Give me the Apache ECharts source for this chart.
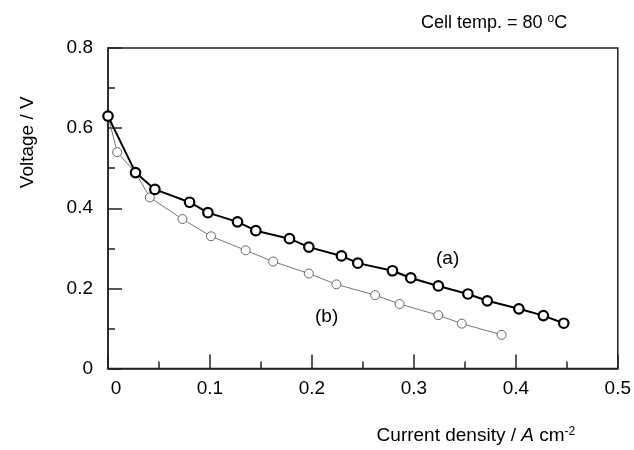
<!DOCTYPE html>
<html>
<head>
<meta charset="utf-8">
<script src="https://cdn.jsdelivr.net/npm/echarts@6/dist/echarts.min.js"></script>
<style>
  html, body { margin: 0; padding: 0; background: #fff; }
  #chart { width: 634px; height: 450px; }
</style>
</head>
<body>
<div id="chart"></div>
<script>
// curve (a)
const currentA = [0, 0.027, 0.046, 0.080, 0.098, 0.127, 0.145, 0.178, 0.197, 0.229, 0.245, 0.279, 0.297, 0.324, 0.353, 0.372, 0.403, 0.427, 0.447]
const voltageA = [0.630, 0.489, 0.447, 0.415, 0.389, 0.366, 0.344, 0.324, 0.303, 0.281, 0.263, 0.244, 0.226, 0.206, 0.186, 0.169, 0.149, 0.132, 0.113]
// curve (b)
const currentB = [0, 0.009, 0.027, 0.041, 0.073, 0.101, 0.135, 0.162, 0.197, 0.224, 0.262, 0.286, 0.324, 0.347, 0.386]
const voltageB = [0.630, 0.540, 0.489, 0.427, 0.373, 0.330, 0.295, 0.267, 0.237, 0.210, 0.183, 0.161, 0.133, 0.112, 0.084]

const FONT = 'Liberation Sans, Arial, sans-serif'
const FS = 19
const AXIS_COLOR = '#222'

const chart = echarts.init(document.getElementById('chart'))

const pairs = (xs, ys) => xs.map((x, i) => [x, ys[i]])

chart.setOption({
  animation: false,
  textStyle: { fontFamily: FONT },
  title: {
    text: '{n|Cell temp. = 80 }{s|o}{n|C}',
    left: 416,
    top: 8,
    textStyle: {
      fontWeight: 'normal',
      rich: {
        n: { fontSize: 18, color: '#000', fontFamily: FONT, fontWeight: 'normal' },
        s: { fontSize: 12, color: '#000', fontFamily: FONT, fontWeight: 'normal', verticalAlign: 'top', padding: [0, 0, 8, 0] }
      }
    }
  },
  grid: {
    left: 108, right: 15, top: 48, bottom: 76,
    show: true, borderColor: AXIS_COLOR, borderWidth: 1.5, backgroundColor: 'transparent'
  },
  xAxis: {
    type: 'value',
    min: 0, max: 0.5, interval: 0.1,
    name: '{n|Current density / }{i|A}{n| cm}{s|-2}',
    nameLocation: 'middle',
    nameGap: 57,
    nameTextStyle: {
      padding: [0, 0, 0, 226],
      rich: {
        n: { fontSize: FS, color: '#000', fontFamily: FONT },
        i: { fontSize: FS, color: '#000', fontFamily: FONT, fontStyle: 'italic' },
        s: { fontSize: 12, color: '#000', fontFamily: FONT, verticalAlign: 'top', padding: [0, 0, 8, 0] }
      }
    },
    axisLine: { lineStyle: { color: AXIS_COLOR, width: 1.5 } },
    axisTick: { inside: true, length: 14, lineStyle: { color: AXIS_COLOR, width: 1.5 } },
    minorTick: { show: true, splitNumber: 2, length: 7, lineStyle: { color: AXIS_COLOR, width: 1.5 } },
    splitLine: { show: false },
    axisLabel: {
      margin: 11,
      fontSize: FS,
      color: '#000',
      formatter: v => v === 0 ? '{z|0}' : String(v),
      rich: { z: { fontSize: FS, color: '#000', fontFamily: FONT, padding: [0, 0, 0, 16] } }
    }
  },
  yAxis: {
    type: 'value',
    min: 0, max: 0.8, interval: 0.2,
    name: 'Voltage / V',
    nameLocation: 'middle',
    nameGap: 71,
    nameTextStyle: { fontSize: FS, color: '#000', padding: [0, 0, 0, 132] },
    axisLine: { lineStyle: { color: AXIS_COLOR, width: 1.5 } },
    axisTick: { inside: true, length: 14, lineStyle: { color: AXIS_COLOR, width: 1.5 } },
    minorTick: { show: true, splitNumber: 2, length: 7, lineStyle: { color: AXIS_COLOR, width: 1.5 } },
    splitLine: { show: false },
    axisLabel: { margin: 15, fontSize: FS, color: '#000' }
  },
  graphic: [
    { type: 'text', left: 436, top: 249, style: { text: '(a)', fontSize: FS, fontFamily: FONT, fill: '#000' } },
    { type: 'text', left: 315, top: 307, style: { text: '(b)', fontSize: FS, fontFamily: FONT, fill: '#000' } }
  ],
  series: [
    {
      name: '(b)',
      type: 'line',
      clip: false,
      data: pairs(currentB, voltageB),
      symbol: 'circle',
      symbolSize: 9,
      lineStyle: { color: '#777', width: 1 },
      itemStyle: { color: '#fff', borderColor: '#666', borderWidth: 1 }
    },
    {
      name: '(a)',
      type: 'line',
      clip: false,
      data: pairs(currentA, voltageA),
      symbol: 'circle',
      symbolSize: 9.5,
      lineStyle: { color: '#000', width: 2 },
      itemStyle: { color: '#fff', borderColor: '#000', borderWidth: 2.2 }
    }
  ]
})
</script>
</body>
</html>
